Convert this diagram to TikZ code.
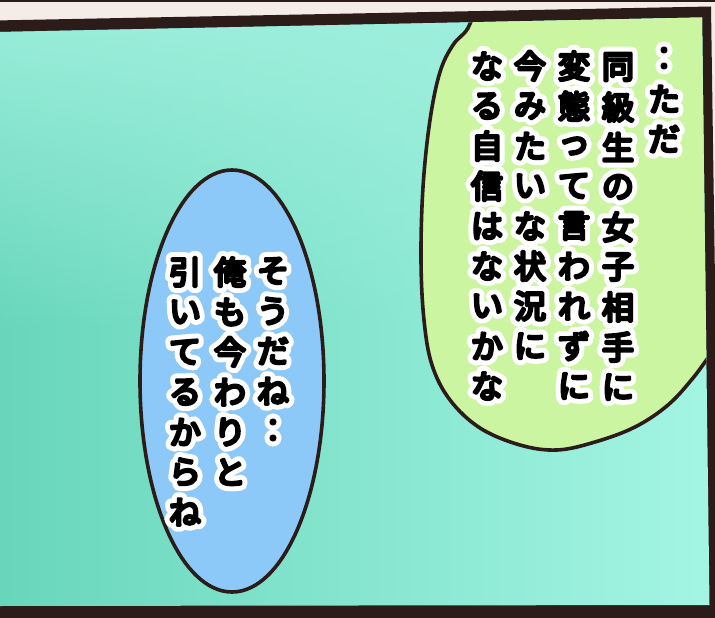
\documentclass[tikz,border=0pt]{standalone}
\usepackage{fontspec}
\newfontfamily\jtext{Noto Sans CJK JP}[FakeBold=9]
\newfontfamily\jhalo{Noto Sans CJK JP}[FakeBold=40]
\usetikzlibrary{fadings}
\definecolor{beige}{HTML}{F5EBE7}
\definecolor{framec}{HTML}{2B1C1A}
\definecolor{tealL}{HTML}{68D6BB}
\definecolor{tealR}{HTML}{A4F5E4}
\definecolor{tealT}{HTML}{A0F0DE}
\definecolor{bubgreen}{HTML}{CBF5A0}
\definecolor{bubblue}{HTML}{8CC9F8}
\newcommand\haloed[1]{\special{pdf:literal direct 1 j}\rlap{\color{white}\jhalo #1}#1}
\tikzset{
  jchar/.style={text=black, font=\jtext\fontsize{32pt}{40pt}\selectfont, inner sep=0pt},
  bubline/.style={draw=framec, line width=3.6pt, line join=round},
}
% #1 x, #2 y of first char, #3 name, #4 chars
\newcommand{\vcolumn}[4]{%
  \foreach \c [count=\i from 0] in {#4} {
    \node[jchar] (#3\i) at (#1, #2+40*\i) {\haloed{\c}};
  }
}
\begin{document}
\begin{tikzpicture}[x=1pt,y=-1pt]
\useasboundingbox (0,0) rectangle (715,618);
% paper
\fill[beige] (0,0) rectangle (715,618);
\fill[framec] (0,0) rectangle (715,2.5);
% frame
\fill[framec] (-5,20.5) -- (711,6.5) -- (720,625) -- (-5,625) -- cycle;
\begin{scope}
  \clip (-1,32) -- (702,17.5) -- (709.5,605) -- (-1,606) -- cycle;
  \shade[left color=tealL, right color=tealR] (-2,0) rectangle (720,620);
  \fill[tealT, path fading=south, opacity=0.9] (-2,10) rectangle (720,330);
  % green bubble
  \filldraw[bubline, fill=bubgreen] plot[smooth, tension=0.6] coordinates {(478,0) (468,28) (453,45) (440,72) (430,120) (423,187) (421,260) (424,320) (432,365) (450,400) (480,428) (520,445) (557,450) (595,442) (635,427) (668,405) (693,378) (712,352)} -- (760,300) -- (760,-20) -- (480,-20) -- cycle;
  % blue bubble
  \filldraw[bubline, fill=bubblue] (232,381) ellipse[x radius=92, y radius=211];
\end{scope}
% green bubble text
\vcolumn{664}{59}{ga}{︰,た,だ}
\vcolumn{618}{67}{gb}{同,級,生,の,女,子,相,手,に}
\vcolumn{574}{66}{gc}{変,態,っ,て,言,わ,れ,ず,に}
\vcolumn{530}{66}{gd}{今,み,た,い,な,状,況,に}
\vcolumn{487}{66}{ge}{な,る,自,信,は,な,い,か,な}
% blue bubble text
\vcolumn{273}{271}{ba}{そ,う,だ,ね,︰}
\vcolumn{230}{272}{bb}{俺,も,今,わ,り,と}
\vcolumn{185}{272}{bc}{引,い,て,る,か,ら,ね}
\end{tikzpicture}
\end{document}
